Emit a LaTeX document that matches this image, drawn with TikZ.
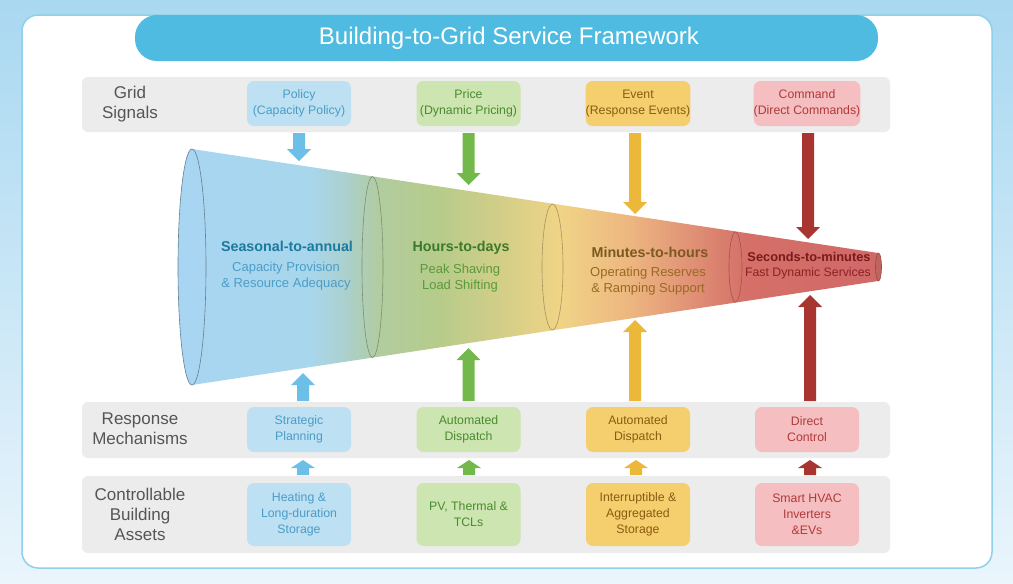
\documentclass[tikz,border=0pt]{standalone}
\usepackage{fontspec}
\setmainfont{Liberation Sans}
\usetikzlibrary{calc}
\definecolor{bgtop}{HTML}{A9D8F1}
\definecolor{bgbot}{HTML}{EAF5FC}
\definecolor{cardline}{HTML}{8FD0EA}
\definecolor{titleblue}{HTML}{4FBBE0}
\definecolor{bandgray}{HTML}{ECECEC}
\definecolor{labgray}{HTML}{555555}
\definecolor{bfill}{HTML}{BEE0F3}\definecolor{btext}{HTML}{4A9CC6}
\definecolor{gfill}{HTML}{CDE5B0}\definecolor{gtext}{HTML}{4A8A30}
\definecolor{yfill}{HTML}{F5CF6E}\definecolor{ytext}{HTML}{8A5A10}
\definecolor{rfill}{HTML}{F5BEC0}\definecolor{rtext}{HTML}{B03A3A}
\definecolor{barrow}{HTML}{6CC0E8}
\definecolor{garrow}{HTML}{72B84A}
\definecolor{yarrow}{HTML}{ECB83A}
\definecolor{rarrow}{HTML}{A83530}
\definecolor{fc0}{HTML}{A8D6F2}
\definecolor{fc1}{HTML}{A8D6EC}
\definecolor{fc2}{HTML}{ABD0CE}
\definecolor{fc3}{HTML}{B1CC9E}
\definecolor{fc4}{HTML}{B7CC8A}
\definecolor{fc5}{HTML}{D2CE88}
\definecolor{fc6}{HTML}{F0D486}
\definecolor{fc7}{HTML}{EDB680}
\definecolor{fc8}{HTML}{E09276}
\definecolor{fc9}{HTML}{D57068}
\definecolor{fc10}{HTML}{D06868}
\definecolor{seasT}{HTML}{1C7A9C}\definecolor{seasS}{HTML}{4A9EC8}
\definecolor{hourT}{HTML}{3A7A2A}\definecolor{hourS}{HTML}{5A9A3A}
\definecolor{minT}{HTML}{7A5A20}\definecolor{minS}{HTML}{9A6A22}
\definecolor{secT}{HTML}{7A1A1A}\definecolor{secS}{HTML}{8A2222}
\pgfdeclarehorizontalshading{funnelsh}{100bp}{color(0bp)=(fc0); color(25bp)=(fc0); color(34.45bp)=(fc1); color(36.93bp)=(fc2); color(39.42bp)=(fc3); color(43.68bp)=(fc4); color(47.94bp)=(fc5); color(52.2bp)=(fc6); color(57.17bp)=(fc7); color(61.43bp)=(fc8); color(65.34bp)=(fc9); color(75bp)=(fc10); color(100bp)=(fc10)}
\newcommand\arrdn[5]{\fill[#1] ({#2-6},#3) -- ({#2-6},{#4-#5}) -- ({#2-12},{#4-#5}) -- (#2,#4) -- ({#2+12},{#4-#5}) -- ({#2+6},{#4-#5}) -- ({#2+6},#3) -- cycle;}
\newcommand\arrup[5]{\fill[#1] ({#2-6},#3) -- ({#2-6},{#4+#5}) -- ({#2-12},{#4+#5}) -- (#2,#4) -- ({#2+12},{#4+#5}) -- ({#2+6},{#4+#5}) -- ({#2+6},#3) -- cycle;}
\tikzset{
  band/.style={fill=bandgray, rounded corners=6pt},
  box/.style={rounded corners=7pt, minimum width=104pt, align=center, inner sep=0pt, font=\fontsize{12.3}{16}\selectfont},
  sigbox/.style={box, minimum height=45pt},
  assetbox/.style={box, minimum height=63pt},
  bandlab/.style={align=center, text=labgray, font=\fontsize{17}{20}\selectfont},
  ftitle/.style={font=\bfseries\fontsize{14.3}{17}\selectfont},
  fsub/.style={align=center, font=\fontsize{13}{16}\selectfont}
}
\begin{document}
\begin{tikzpicture}[x=1pt,y=-1pt]
\useasboundingbox (0,0) rectangle (1013,584);
\shade[top color=bgtop, bottom color=bgbot] (0,0) rectangle (1013,584);
% card
\draw[cardline, line width=1.5pt, fill=white, rounded corners=16pt] (22,15) rectangle (992,568);
% title
\fill[titleblue, rounded corners=22pt] (135,15) rectangle (878,61);
\node[text=white, font=\fontsize{24}{28}\selectfont] (title) at (509,38) {Building-to-Grid Service Framework};
% bands
\fill[band] (82,77) rectangle (890,132);
\fill[band] (82,402) rectangle (890,458);
\fill[band] (82,476) rectangle (890,553);
\node[bandlab] (lsig) at (130,104) {Grid\\Signals};
\node[bandlab] (lresp) at (140,429) {Response\\Mechanisms};
\node[bandlab] (lasset) at (140,514) {Controllable\\Building\\Assets};
% signal boxes
\node[sigbox, fill=bfill, text=btext] (s1) at (299,103.5) {Policy\\(Capacity Policy)};
\node[sigbox, fill=gfill, text=gtext] (s2) at (468.5,103.5) {Price\\(Dynamic Pricing)};
\node[sigbox, fill=yfill, text=ytext] (s3) at (638,103.5) {Event\\(Response Events)};
\node[sigbox, fill=rfill, text=rtext] (s4) at (807,103.5) {Command\\(Direct Commands)};
% response boxes
\node[sigbox, fill=bfill, text=btext] (r1) at (299,429.5) {Strategic\\Planning};
\node[sigbox, fill=gfill, text=gtext] (r2) at (468.5,429.5) {Automated\\Dispatch};
\node[sigbox, fill=yfill, text=ytext] (r3) at (638,429.5) {Automated\\Dispatch};
\node[sigbox, fill=rfill, text=rtext] (r4) at (807,429.5) {Direct\\Control};
% asset boxes
\node[assetbox, fill=bfill, text=btext] (a1) at (299,514.5) {Heating \&\\Long-duration\\Storage};
\node[assetbox, fill=gfill, text=gtext] (a2) at (468.5,514.5) {PV, Thermal \&\\TCLs};
\node[assetbox, fill=yfill, text=ytext] (a3) at (638,514.5) {Interruptible \&\\Aggregated\\Storage};
\node[assetbox, fill=rfill, text=rtext] (a4) at (807,514.5) {Smart HVAC\\Inverters\\\&EVs};
% funnel
\begin{scope}
\clip (192,149) -- (878,253) -- (878,281) -- (192,385) -- cycle;
\shade[shading=funnelsh] (177,149) rectangle (881,385);
\end{scope}
\draw[draw=fc0!60!black, line width=0.6pt, fill=fc0] (192,267) ellipse [x radius=14, y radius=118];
\draw[draw=fc3!70!black, line width=0.6pt] (372.5,267) ellipse [x radius=10.5, y radius=90.5];
\draw[draw=fc6!70!black, line width=0.6pt] (552.5,267) ellipse [x radius=10.5, y radius=63];
\draw[draw=fc9!75!black, line width=0.6pt] (735.5,267) ellipse [x radius=6.5, y radius=35];
\draw[draw=fc9!70!black, line width=0.6pt, fill=fc9!90!black] (878.5,267) ellipse [x radius=3, y radius=14];
% funnel labels
\node[ftitle, text=seasT] (t1) at (287,246) {Seasonal-to-annual};
\node[fsub, text=seasS] (u1) at (286,276) {Capacity Provision\\\& Resource Adequacy};
\node[ftitle, text=hourT] (t2) at (461,248) {Hours-to-days};
\node[fsub, text=hourS] (u2) at (460,278) {Peak Shaving\\Load Shifting};
\node[ftitle, text=minT] (t3) at (650,252) {Minutes-to-hours};
\node[fsub, text=minS] (u3) at (648,281) {Operating Reserves\\\& Ramping Support};
\node[ftitle, text=secT, font=\bfseries\fontsize{12.8}{15}\selectfont] (t4) at (809,257) {Seconds-to-minutes};
\node[fsub, text=secS, font=\fontsize{12.3}{15}\selectfont] (u4) at (808,273) {Fast Dynamic Services};
% arrows from signals down to funnel
\arrdn{barrow}{299}{133}{161}{12}
\arrdn{garrow}{468.5}{133}{185}{12}
\arrdn{yarrow}{635}{133}{214}{12}
\arrdn{rarrow}{808}{133}{239}{12}
% arrows from response up to funnel
\arrup{barrow}{303}{401}{373}{12}
\arrup{garrow}{468.5}{401}{348}{12}
\arrup{yarrow}{635}{401}{320}{12}
\arrup{rarrow}{810}{401}{295}{12}
% small arrows assets -> response
\arrup{barrow}{303}{475}{460}{8}
\arrup{garrow}{469}{475}{460}{8}
\arrup{yarrow}{636}{475}{460}{8}
\arrup{rarrow}{810}{475}{460}{8}
\end{tikzpicture}
\end{document}
